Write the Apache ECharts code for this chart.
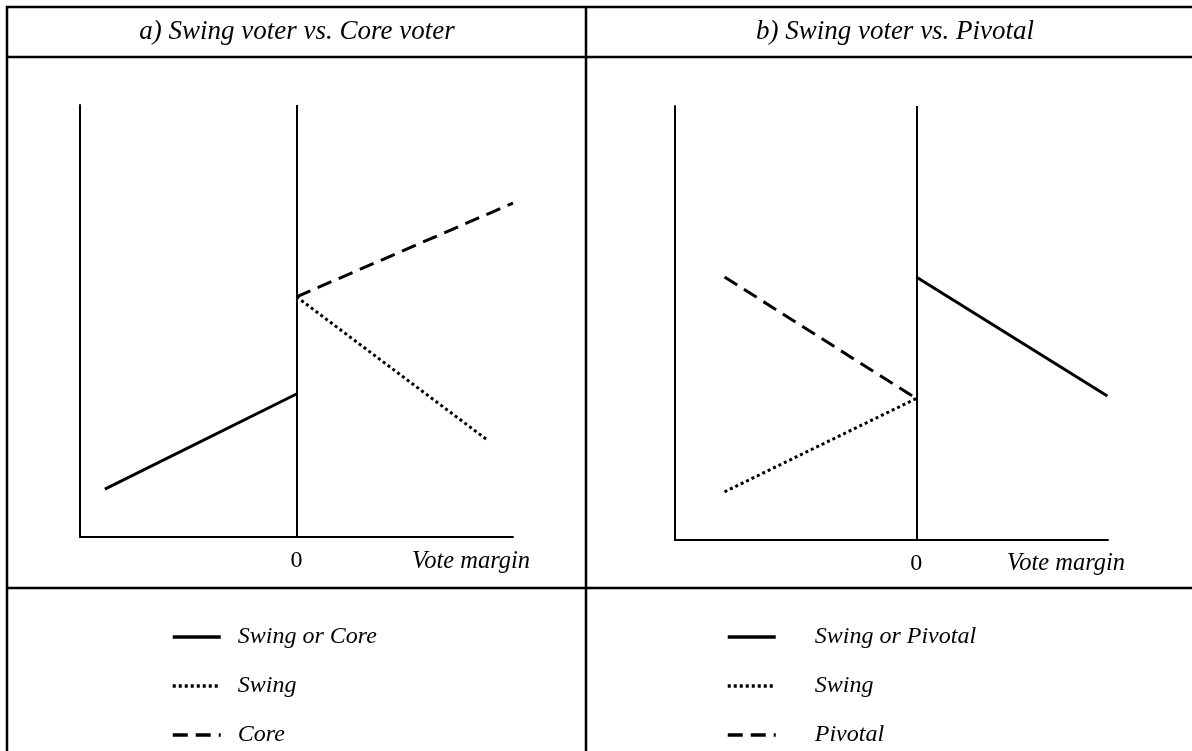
<!DOCTYPE html>
<html>
<head>
<meta charset="utf-8">
<script src="https://cdn.jsdelivr.net/npm/echarts@6/dist/echarts.min.js"></script>
<style>
html,body{margin:0;padding:0;background:#fff;}
#c{width:1192px;height:751px;}
</style>
</head>
<body>
<div id="c"></div>
<script>
// ---- data (x: vote margin, 0 = tie; y: arbitrary scale 0..10) ----
const panelTitles = ['a) Swing voter vs. Core voter', 'b) Swing voter vs. Pivotal'];
const xAxisName = 'Vote margin';
const xTickLabels = [0];

// Panel a
const aSwingOrCore = [[-0.885, 1.11], [0, 3.31]];
const aSwing = [[0, 5.56], [0.88, 2.25]];
const aCore = [[0, 5.56], [1.0, 7.73]];
const aNames = ['Swing or Core', 'Swing', 'Core'];

// Panel b
const bSwingOrPivotal = [[0, 6.06], [0.887, 3.32]];
const bSwing = [[-0.89, 1.11], [0, 3.26]];
const bPivotal = [[-0.89, 6.06], [0, 3.26]];
const bNames = ['Swing or Pivotal', 'Swing', 'Pivotal'];

const FONT = 'Liberation Serif';
const chart = echarts.init(document.getElementById('c'), null, {renderer: 'canvas'});

const solid = {color: '#000', width: 3, type: 'solid'};
const dotted = {color: '#000', width: 3, type: [3, 3]};
const dashed = {color: '#000', width: 3, type: [15, 8]};

function axisPair(min, max, gridIndex) {
  return {
    x: {
      type: 'value', gridIndex, min, max,
      axisLine: {show: true, onZero: false, lineStyle: {color: '#000', width: 2}},
      axisTick: {show: false},
      splitLine: {show: false},
      axisLabel: {show: true, customValues: xTickLabels, margin: 12, color: '#000',
                  fontFamily: FONT, fontSize: 24, formatter: v => String(v)}
    },
    y: {
      type: 'value', gridIndex, min: 0, max: 10,
      axisLine: {show: true, onZero: false, lineStyle: {color: '#000', width: 2}},
      axisTick: {show: false}, splitLine: {show: false}, axisLabel: {show: false}
    }
  };
}
const A = axisPair(-1, 1, 0);
const B = axisPair(-1.12, 0.89, 1);

const zeroLine = {
  silent: true, symbol: ['none', 'none'], label: {show: false},
  lineStyle: {color: '#000', width: 2, type: 'solid'},
  data: [{xAxis: 0}]
};

function lineSeries(name, data, style, idx, extra) {
  return Object.assign({
    type: 'line', name, data, xAxisIndex: idx, yAxisIndex: idx,
    symbol: 'none', lineStyle: style, itemStyle: {color: '#000'},
    silent: true, z: 3
  }, extra || {});
}

const legendText = {fontFamily: FONT, fontStyle: 'italic', fontSize: 24, color: '#000', lineHeight: 24};

function hline(y, x1, x2) {
  return {type: 'line', shape: {x1, y1: y, x2, y2: y}, style: {stroke: '#000', lineWidth: 2.5}, z: 10};
}
function vline(x, y1, y2) {
  return {type: 'line', shape: {x1: x, y1, x2: x, y2}, style: {stroke: '#000', lineWidth: 2.5}, z: 10};
}
function txt(text, x, y, size) {
  return {type: 'text', x, y, z: 10,
    style: {text, fontFamily: FONT, fontStyle: 'italic', fontSize: size, fill: '#000',
            align: 'center', verticalAlign: 'middle'}};
}

const legendBase = {orient: 'vertical', top: 625, padding: 0, itemWidth: 48, itemHeight: 14,
  itemGap: 25, selectedMode: false, itemStyle: {opacity: 0}, height: 126,
  lineStyle: {width: 3.5}};

chart.setOption({
  animation: false,
  backgroundColor: '#fff',
  grid: [
    {left: 80, top: 105, width: 433, height: 432},
    {left: 675, top: 106, width: 433, height: 434}
  ],
  xAxis: [A.x, B.x],
  yAxis: [A.y, B.y],
  legend: [
    Object.assign({data: aNames, left: 171,
      textStyle: Object.assign({padding: [0, 0, 0, 12]}, legendText)}, legendBase),
    Object.assign({data: bNames, left: 726,
      textStyle: Object.assign({padding: [0, 0, 0, 34]}, legendText)}, legendBase)
  ],
  series: [
    lineSeries(aNames[0], aSwingOrCore, solid, 0, {markLine: zeroLine}),
    lineSeries(aNames[1], aSwing, dotted, 0),
    lineSeries(aNames[2], aCore, dashed, 0),
    lineSeries(bNames[0], bSwingOrPivotal, solid, 1, {markLine: zeroLine}),
    lineSeries(bNames[1], bSwing, dotted, 1),
    lineSeries(bNames[2], bPivotal, dashed, 1)
  ],
  graphic: [
    hline(7, 6, 1192),
    hline(57, 6, 1192),
    hline(588, 6, 1192),
    vline(7, 6, 751),
    vline(586, 6, 751),
    txt(panelTitles[0], 297, 32, 27),
    txt(panelTitles[1], 895, 32, 27),
    txt(xAxisName, 471, 562, 24.5),
    txt(xAxisName, 1066, 564, 24.5)
  ]
});
</script>
</body>
</html>
